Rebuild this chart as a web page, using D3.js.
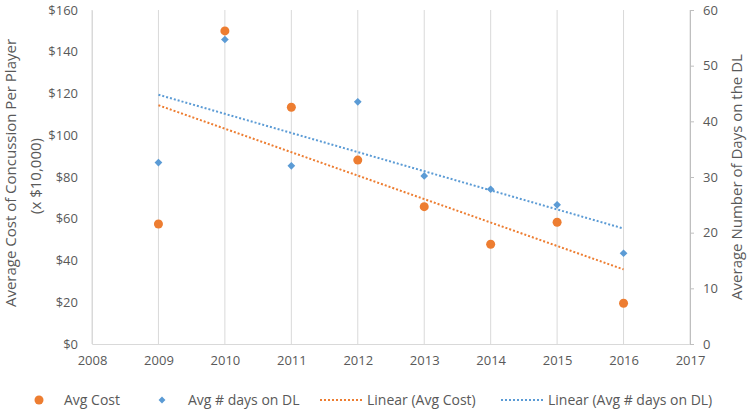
<!DOCTYPE html>
<html><head><meta charset="utf-8">
<script src="https://cdn.jsdelivr.net/npm/d3@7"></script>
<style>
body{margin:0;background:#fff;}
text{font-family:"Open Sans",sans-serif;fill:#595959;}
</style></head>
<body><svg id="c" width="750" height="410"></svg>
<script>
const years = [2009, 2010, 2011, 2012, 2013, 2014, 2015, 2016];
const avgCost = [57.5, 150, 113.4, 88.1, 65.8, 47.8, 58.3, 19.5];
const avgDays = [32.6, 54.7, 32.0, 43.5, 30.2, 27.8, 25.0, 16.3];
const xTicks = [2008, 2009, 2010, 2011, 2012, 2013, 2014, 2015, 2016, 2017];
const leftTicks = [0, 20, 40, 60, 80, 100, 120, 140, 160];
const rightTicks = [0, 10, 20, 30, 40, 50, 60];
const seriesNames = ["Avg Cost", "Avg # days on DL", "Linear (Avg Cost)", "Linear (Avg # days on DL)"];

const orange = "#ED7D31", blue = "#5B9BD5", grid = "#D9D9D9";
const svg = d3.select("#c");
const L = 92, R = 690, T = 10, B = 344;
const x = d3.scaleLinear().domain([2008, 2017]).range([L, R]);
const yL = d3.scaleLinear().domain([0, 160]).range([B, T]);
const yR = d3.scaleLinear().domain([0, 60]).range([B, T]);

// vertical gridlines
svg.append("g").selectAll("line").data(xTicks).join("line")
  .attr("x1", d => x(d)).attr("x2", d => x(d)).attr("y1", T).attr("y2", B)
  .attr("stroke", grid).attr("stroke-width", 1);

// bottom axis
const xAxis = svg.append("g").attr("transform", `translate(0,${B})`)
  .call(d3.axisBottom(x).tickValues(xTicks).tickFormat(d3.format("d")).tickSize(0).tickPadding(12));
xAxis.select(".domain").attr("stroke", grid);
xAxis.selectAll("text").style("font-size", "13px").attr("fill", "#595959");

// left axis
const lAxis = svg.append("g").attr("transform", `translate(${L},0)`)
  .call(d3.axisLeft(yL).tickValues(leftTicks).tickFormat(d => "$" + d).tickSize(0).tickPadding(14));
lAxis.select(".domain").attr("stroke", grid);
lAxis.selectAll("text").style("font-size", "13px").attr("fill", "#595959");

// right axis
const rAxis = svg.append("g").attr("transform", `translate(${R},0)`)
  .call(d3.axisRight(yR).tickValues(rightTicks).tickSize(4).tickSizeOuter(0).tickPadding(9));
rAxis.select(".domain").attr("stroke", "#BFBFBF");
rAxis.selectAll("line").attr("stroke", "#BFBFBF");
rAxis.selectAll("text").style("font-size", "13px").attr("fill", "#595959");

// axis titles
svg.append("text").attr("transform", "translate(16,173) rotate(-90)")
  .attr("text-anchor", "middle").style("font-size", "15px")
  .text("Average Cost of Concussion Per Player");
svg.append("text").attr("transform", "translate(41,176) rotate(-90)")
  .attr("text-anchor", "middle").style("font-size", "15px")
  .text("(x $10,000)");
svg.append("text").attr("transform", "translate(742,177) rotate(-90)")
  .attr("text-anchor", "middle").style("font-size", "15px")
  .text("Average Number of Days on the DL");

// trendlines via least squares
function fit(xs, ys) {
  const mx = d3.mean(xs), my = d3.mean(ys);
  let sxy = 0, sxx = 0;
  xs.forEach((v, i) => { sxy += (v - mx) * (ys[i] - my); sxx += (v - mx) * (v - mx); });
  const m = sxy / sxx, b = my - m * mx;
  return v => m * v + b;
}
const fC = fit(years, avgCost), fD = fit(years, avgDays);
const x0 = years[0], x1 = years[years.length - 1];
const line = d3.line();
svg.append("path").attr("d", line([[x(x0), yL(fC(x0))], [x(x1), yL(fC(x1))]]))
  .attr("stroke", orange).attr("stroke-width", 2).attr("stroke-dasharray", "2,2").attr("fill", "none");
svg.append("path").attr("d", line([[x(x0), yR(fD(x0))], [x(x1), yR(fD(x1))]]))
  .attr("stroke", blue).attr("stroke-width", 2).attr("stroke-dasharray", "2,2").attr("fill", "none");

// points
svg.append("g").selectAll("circle").data(years).join("circle")
  .attr("cx", d => x(d)).attr("cy", (d, i) => yL(avgCost[i])).attr("r", 4.5).attr("fill", orange);
const dia = d3.symbol().type(d3.symbolDiamond2).size(38);
svg.append("g").selectAll("path").data(years).join("path")
  .attr("d", dia).attr("transform", (d, i) => `translate(${x(d)},${yR(avgDays[i])})`).attr("fill", blue);

// legend
const ly = 400;
const lg = svg.append("g");
lg.append("circle").attr("cx", 39).attr("cy", ly).attr("r", 4.5).attr("fill", orange);
lg.append("text").attr("x", 64).attr("y", ly + 5).style("font-size", "14px").text(seriesNames[0]);
lg.append("path").attr("d", d3.symbol().type(d3.symbolDiamond2).size(30)).attr("transform", `translate(162,${ly})`).attr("fill", blue);
lg.append("text").attr("x", 188).attr("y", ly + 5).style("font-size", "14px").text(seriesNames[1]);
lg.append("line").attr("x1", 320).attr("x2", 362).attr("y1", ly).attr("y2", ly)
  .attr("stroke", orange).attr("stroke-width", 2).attr("stroke-dasharray", "2,2");
lg.append("text").attr("x", 367).attr("y", ly + 5).style("font-size", "14px").text(seriesNames[2]);
lg.append("line").attr("x1", 501).attr("x2", 543).attr("y1", ly).attr("y2", ly)
  .attr("stroke", blue).attr("stroke-width", 2).attr("stroke-dasharray", "2,2");
lg.append("text").attr("x", 548).attr("y", ly + 5).style("font-size", "14px").text(seriesNames[3]);
</script></body></html>
